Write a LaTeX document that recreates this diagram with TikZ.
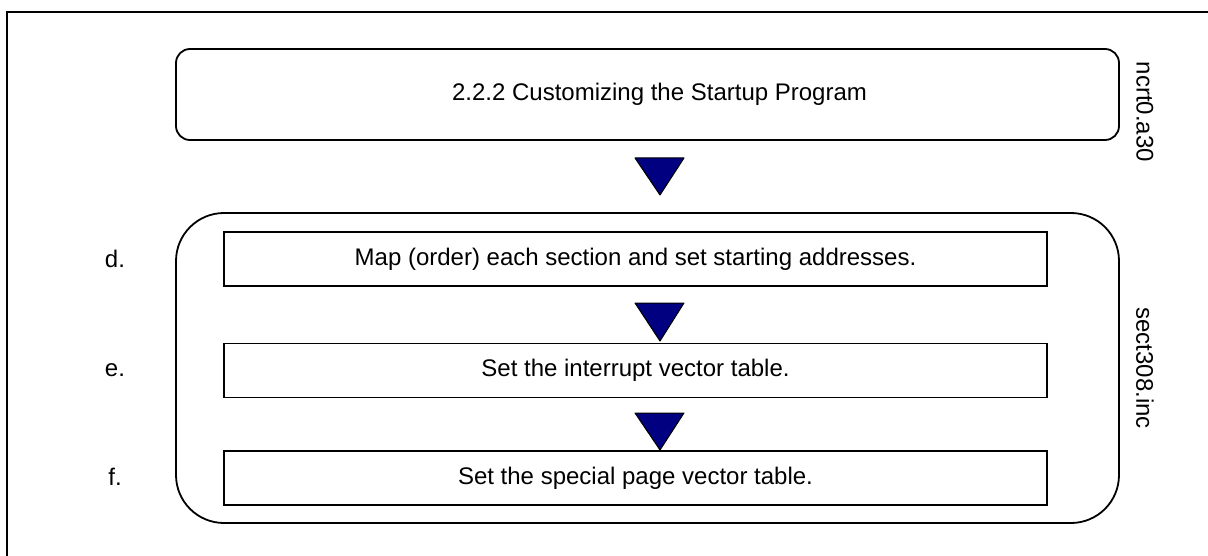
\documentclass[tikz,border=0pt]{standalone}
\usepackage{fontspec}
\setmainfont{Liberation Sans}
\definecolor{navy}{RGB}{0,0,128}
\begin{document}
\begin{tikzpicture}[x=1pt,y=-1pt,
  frame/.style={line width=2pt},
  bigbox/.style={draw,line width=1.8pt},
  stepbox/.style={draw,line width=1.8pt,minimum width=823pt,minimum height=54pt,inner sep=0pt,font=\fontsize{24}{28}\selectfont},
  lbl/.style={font=\fontsize{24}{28}\selectfont,inner sep=0pt},
  tri/.style={fill=navy,draw=black,line width=1pt,line join=round}]
\useasboundingbox (0,0) rectangle (1208,556);
\clip (0,0) rectangle (1208,556);
\draw[frame] (7,600) -- (7,12) -- (1250,12);
% top box
\draw[bigbox,rounded corners=14pt] (176,49) rectangle (1119,140);
\node[lbl] (title) at (659.5,94.5) {2.2.2 Customizing the Startup Program};
\node[lbl,rotate=-90] (ncrt) at (1145,112) {ncrt0.a30};
% big box
\draw[bigbox,rounded corners=48pt] (176,213) rectangle (1119,523);
\node[lbl,rotate=-90] (sect) at (1145,368) {sect308.inc};
% steps
\node[stepbox] (d) at (635.5,259) {Map (order) each section and set starting addresses.};
\node[stepbox] (e) at (635.5,370.5) {Set the interrupt vector table.};
\node[stepbox] (f) at (635.5,478) {Set the special page vector table.};
\node[lbl] (dl) at (115,259) {d.};
\node[lbl] (el) at (115,370) {e.};
\node[lbl] (fl) at (115,477) {f.};
% triangles
\draw[tri] (635,158) -- (684,158) -- (660,195) -- cycle;
\draw[tri] (635,303) -- (684,303) -- (660,341) -- cycle;
\draw[tri] (635,413) -- (684,413) -- (660,450) -- cycle;
\end{tikzpicture}
\end{document}
